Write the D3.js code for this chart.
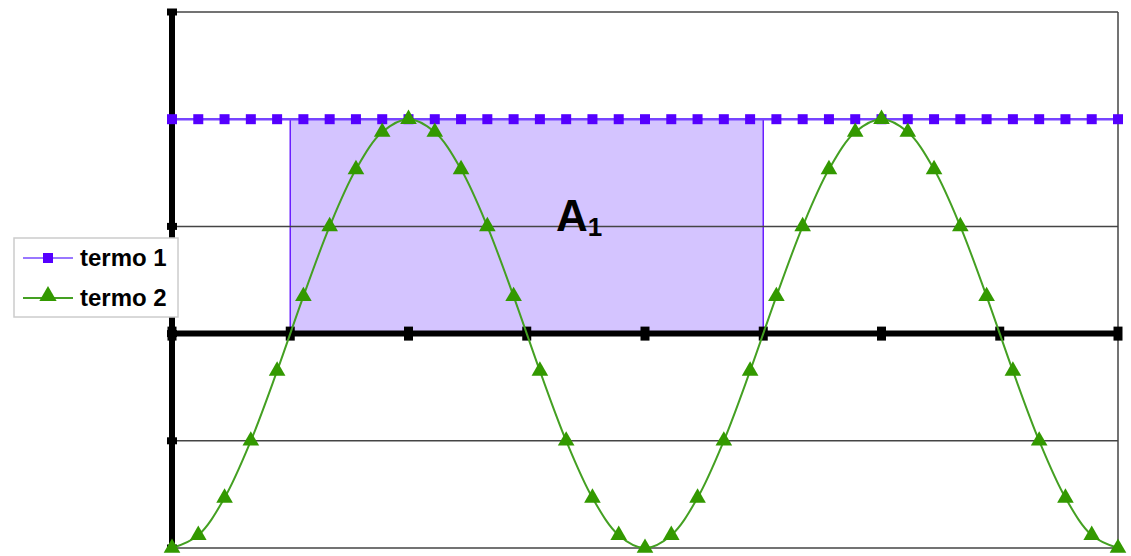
<!DOCTYPE html>
<html>
<head>
<meta charset="utf-8">
<script src="https://cdn.jsdelivr.net/npm/d3@7"></script>
<style>
  body { margin: 0; background: #fff; }
  svg { display: block; font-family: "Liberation Sans", Arial, sans-serif; }
</style>
</head>
<body>
<div id="chart"></div>
<script>
// angles in degrees, one point every 20 degrees
var angles = [0, 20, 40, 60, 80, 100, 120, 140, 160, 180, 200, 220, 240, 260, 280, 300, 320, 340, 360,
              380, 400, 420, 440, 460, 480, 500, 520, 540, 560, 580, 600, 620, 640, 660, 680, 700, 720];
var termo1 = [1, 1, 1, 1, 1, 1, 1, 1, 1, 1, 1, 1, 1, 1, 1, 1, 1, 1, 1,
              1, 1, 1, 1, 1, 1, 1, 1, 1, 1, 1, 1, 1, 1, 1, 1, 1, 1];
var termo2 = [-1, -0.94, -0.766, -0.5, -0.174, 0.174, 0.5, 0.766, 0.94, 1, 0.94, 0.766, 0.5, 0.174, -0.174, -0.5, -0.766, -0.94, -1,
              -0.94, -0.766, -0.5, -0.174, 0.174, 0.5, 0.766, 0.94, 1, 0.94, 0.766, 0.5, 0.174, -0.174, -0.5, -0.766, -0.94, -1];
var xTicks = [0, 90, 180, 270, 360, 450, 540, 630, 720];
var yTicks = [-1, -0.5, 0, 0.5, 1, 1.5];
var areaX = [90, 450];
var areaY = [0, 1];
var seriesNames = ["termo 1", "termo 2"];

var width = 1131,
    height = 556;

var x = d3.scaleLinear().domain([0, 720]).range([172, 1118]);
var y = d3.scaleLinear().domain([-1, 1.5]).range([548, 12]);

var svg = d3.select('#chart')
    .append('svg')
    .attr('width', width)
    .attr('height', height);

var purple = '#5500ff',
    purpleLine = '#7744ff',
    green = '#339900';

// shaded area A1
svg.append('rect')
    .attr('x', x(areaX[0]))
    .attr('y', y(areaY[1]))
    .attr('width', x(areaX[1]) - x(areaX[0]))
    .attr('height', y(areaY[0]) - y(areaY[1]))
    .attr('fill', '#d4c4ff')
    .attr('stroke', '#6a1eff')
    .attr('stroke-width', 1.5);

// gridlines
svg.append('g')
    .selectAll('line')
    .data(yTicks.filter(d => d !== 0))
    .enter()
    .append('line')
    .attr('x1', x(0))
    .attr('x2', x(720))
    .attr('y1', d => y(d))
    .attr('y2', d => y(d))
    .attr('stroke', '#444')
    .attr('stroke-width', 1.5);

// right border
svg.append('line')
    .attr('x1', x(720)).attr('x2', x(720))
    .attr('y1', y(1.5)).attr('y2', y(-1))
    .attr('stroke', '#444')
    .attr('stroke-width', 1.5);

// x axis on zero
svg.append('line')
    .attr('x1', x(0)).attr('x2', x(720))
    .attr('y1', y(0)).attr('y2', y(0))
    .attr('stroke', '#000')
    .attr('stroke-width', 6);

svg.append('g')
    .selectAll('line')
    .data(xTicks)
    .enter()
    .append('line')
    .attr('x1', d => x(d)).attr('x2', d => x(d))
    .attr('y1', y(0) - 7).attr('y2', y(0) + 7)
    .attr('stroke', '#000')
    .attr('stroke-width', 9);

// y axis
svg.append('line')
    .attr('x1', x(0)).attr('x2', x(0))
    .attr('y1', y(1.5) - 3).attr('y2', y(-1))
    .attr('stroke', '#000')
    .attr('stroke-width', 6);

svg.append('g')
    .selectAll('line')
    .data(yTicks)
    .enter()
    .append('line')
    .attr('x1', x(0) - 5).attr('x2', x(0) + 5)
    .attr('y1', d => y(d)).attr('y2', d => y(d))
    .attr('stroke', '#000')
    .attr('stroke-width', 7);

// termo 1
var line1 = d3.line()
    .x((d, i) => x(angles[i]))
    .y(d => y(d));

svg.append('path')
    .datum(termo1)
    .attr('d', line1)
    .attr('fill', 'none')
    .attr('stroke', purpleLine)
    .attr('stroke-width', 2.5);

svg.append('g')
    .selectAll('rect')
    .data(termo1)
    .enter()
    .append('rect')
    .attr('x', (d, i) => x(angles[i]) - 5)
    .attr('y', d => y(d) - 5)
    .attr('width', 10)
    .attr('height', 10)
    .attr('fill', purple);

// termo 2
var line2 = d3.line()
    .x((d, i) => x(angles[i]))
    .y(d => y(d))
    .curve(d3.curveCatmullRom);

svg.append('path')
    .datum(termo2)
    .attr('d', line2)
    .attr('fill', 'none')
    .attr('stroke', '#44a022')
    .attr('stroke-width', 2);

var tri = d3.symbol().type(d3.symbolTriangle).size(120);

svg.append('g')
    .selectAll('path')
    .data(termo2)
    .enter()
    .append('path')
    .attr('d', tri)
    .attr('transform', (d, i) => `translate(${x(angles[i])},${y(d)})`)
    .attr('fill', green);

// A1 label
var lbl = svg.append('text')
    .attr('x', 556)
    .attr('y', 231)
    .attr('font-weight', 'bold')
    .attr('font-size', 44)
    .attr('fill', '#000');
lbl.append('tspan').text('A');
lbl.append('tspan')
    .attr('font-size', 26)
    .attr('dy', 5)
    .text('1');

// legend
var legend = svg.append('g');
legend.append('rect')
    .attr('x', 14).attr('y', 238)
    .attr('width', 164).attr('height', 79)
    .attr('fill', '#fff')
    .attr('stroke', '#ccc')
    .attr('stroke-width', 1.5);

var rows = [258, 298];
legend.append('line')
    .attr('x1', 23).attr('x2', 73)
    .attr('y1', rows[0]).attr('y2', rows[0])
    .attr('stroke', '#9977ff').attr('stroke-width', 2);
legend.append('rect')
    .attr('x', 43).attr('y', rows[0] - 5)
    .attr('width', 10).attr('height', 10)
    .attr('fill', purple);
legend.append('line')
    .attr('x1', 23).attr('x2', 73)
    .attr('y1', rows[1]).attr('y2', rows[1])
    .attr('stroke', '#44a022').attr('stroke-width', 2);
legend.append('path')
    .attr('d', d3.symbol().type(d3.symbolTriangle).size(130))
    .attr('transform', `translate(48,${rows[1] - 2})`)
    .attr('fill', green);

legend.selectAll('text')
    .data(seriesNames)
    .enter()
    .append('text')
    .attr('x', 80)
    .attr('y', (d, i) => rows[i] + 8)
    .attr('font-size', 24)
    .attr('font-weight', 'bold')
    .attr('fill', '#000')
    .text(d => d);
</script>
</body>
</html>
